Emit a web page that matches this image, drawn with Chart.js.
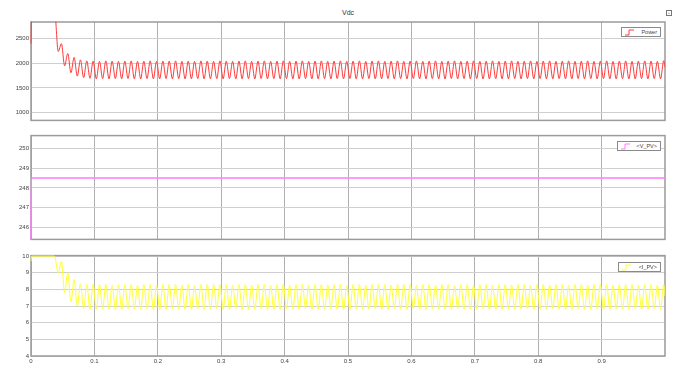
<!DOCTYPE html>
<html>
<head>
<meta charset="utf-8">
<script src="https://cdn.jsdelivr.net/npm/chart.js@4/dist/chart.umd.min.js"></script>
<style>
  body { margin: 0; background: #fff; width: 678px; height: 365px; position: relative; overflow: hidden; font-family: Arial, "Liberation Sans", sans-serif; }
  canvas { position: absolute; left: 0; }
  .title { position: absolute; top: 9px; left: 31px; width: 634px; text-align: center; font-size: 7px; color: #333; }
  .leg { position: absolute; border: 1px solid #8a8a8a; background: #fff; font-size: 5.5px; color: #444; height: 8px; line-height: 8px; box-sizing: content-box; }
  .leg svg { position: absolute; left: 2px; top: 1px; }
  .leg span { position: absolute; right: 3px; top: 0; }
  .icon { position: absolute; left: 666px; top: 10px; width: 4px; height: 4px; border: 1px solid #777; font-size: 4px; line-height: 4px; text-align: center; color: #555; }
</style>
</head>
<body>
<div class="title">Vdc</div>
<div class="icon">+</div>

<canvas id="c1" width="678" height="126" style="top:0px"></canvas>
<canvas id="c2" width="678" height="115" style="top:130px"></canvas>
<canvas id="c3" width="678" height="115" style="top:250px"></canvas>

<div class="leg" style="left:621px;top:27px;width:38px">
  <svg width="12" height="7"><path d="M1 6 H5 V1 H10" fill="none" stroke="#ff3b3b" stroke-width="1"/></svg><span>Power</span>
</div>
<div class="leg" style="left:617px;top:141px;width:42px">
  <svg width="12" height="7"><path d="M1 6 H5 V1 H10" fill="none" stroke="#ff7bff" stroke-width="1"/></svg><span>&lt;V_PV&gt;</span>
</div>
<div class="leg" style="left:618px;top:262px;width:41px">
  <svg width="12" height="7"><path d="M1 6 H5 V1 H10" fill="none" stroke="#ffff30" stroke-width="1"/></svg><span>&lt;I_PV&gt;</span>
</div>

<script>
// sample times (s), shared by Vdc and I_PV
const t = [
  0, 0.001, 0.037, 0.043,
  0.048, 0.053, 0.058, 0.063, 0.068, 0.073, 0.078, 0.083, 0.088, 0.093,
  0.098, 0.103, 0.108, 0.113, 0.118, 0.123, 0.128, 0.133, 0.138, 0.143,
  0.148, 0.153, 0.158, 0.163, 0.168, 0.173, 0.178, 0.183, 0.188, 0.193,
  0.198, 0.203, 0.208, 0.213, 0.218, 0.223, 0.228, 0.233, 0.238, 0.243,
  0.248, 0.253, 0.258, 0.263, 0.268, 0.273, 0.278, 0.283, 0.288, 0.293,
  0.298, 0.303, 0.308, 0.313, 0.318, 0.323, 0.328, 0.333, 0.338, 0.343,
  0.348, 0.353, 0.358, 0.363, 0.368, 0.373, 0.378, 0.383, 0.388, 0.393,
  0.398, 0.403, 0.408, 0.413, 0.418, 0.423, 0.428, 0.433, 0.438, 0.443,
  0.448, 0.453, 0.458, 0.463, 0.468, 0.473, 0.478, 0.483, 0.488, 0.493,
  0.498, 0.503, 0.508, 0.513, 0.518, 0.523, 0.528, 0.533, 0.538, 0.543,
  0.548, 0.553, 0.558, 0.563, 0.568, 0.573, 0.578, 0.583, 0.588, 0.593,
  0.598, 0.603, 0.608, 0.613, 0.618, 0.623, 0.628, 0.633, 0.638, 0.643,
  0.648, 0.653, 0.658, 0.663, 0.668, 0.673, 0.678, 0.683, 0.688, 0.693,
  0.698, 0.703, 0.708, 0.713, 0.718, 0.723, 0.728, 0.733, 0.738, 0.743,
  0.748, 0.753, 0.758, 0.763, 0.768, 0.773, 0.778, 0.783, 0.788, 0.793,
  0.798, 0.803, 0.808, 0.813, 0.818, 0.823, 0.828, 0.833, 0.838, 0.843,
  0.848, 0.853, 0.858, 0.863, 0.868, 0.873, 0.878, 0.883, 0.888, 0.893,
  0.898, 0.903, 0.908, 0.913, 0.918, 0.923, 0.928, 0.933, 0.938, 0.943,
  0.948, 0.953, 0.958, 0.963, 0.968, 0.973, 0.978, 0.983, 0.988, 0.993,
  0.998, 1.0
];

// Vdc "Power" (V)
const vdc = [
  2400, 3100, 3100, 2240,
  2400, 1950, 2200, 1810, 2120, 1740, 2070, 1710, 2050, 1695,
  2045, 1685, 2040, 1690, 2050, 1685, 2045, 1690, 2040, 1685,
  2045, 1690, 2050, 1685, 2040, 1685, 2045, 1690, 2050, 1685,
  2040, 1685, 2045, 1690, 2045, 1685, 2050, 1690, 2040, 1685,
  2045, 1685, 2040, 1690, 2050, 1685, 2045, 1685, 2040, 1690,
  2050, 1685, 2045, 1690, 2040, 1685, 2045, 1685, 2050, 1690,
  2040, 1685, 2045, 1690, 2050, 1685, 2040, 1690, 2045, 1685,
  2050, 1690, 2040, 1685, 2045, 1685, 2050, 1690, 2040, 1685,
  2045, 1685, 2050, 1690, 2040, 1685, 2045, 1690, 2050, 1685,
  2040, 1690, 2045, 1685, 2050, 1685, 2040, 1690, 2045, 1685,
  2050, 1685, 2040, 1690, 2045, 1685, 2050, 1690, 2040, 1685,
  2045, 1690, 2050, 1685, 2040, 1685, 2045, 1690, 2050, 1685,
  2040, 1685, 2045, 1690, 2050, 1685, 2040, 1690, 2045, 1685,
  2050, 1690, 2040, 1685, 2045, 1685, 2050, 1690, 2040, 1685,
  2045, 1685, 2050, 1690, 2040, 1685, 2045, 1690, 2050, 1685,
  2040, 1690, 2045, 1685, 2050, 1685, 2040, 1690, 2045, 1685,
  2050, 1685, 2040, 1690, 2045, 1685, 2050, 1690, 2040, 1685,
  2045, 1690, 2050, 1685, 2040, 1685, 2045, 1690, 2050, 1685,
  2040, 1685, 2045, 1690, 2050, 1685, 2045, 1690, 2040, 1685,
  2055, 1920
];

// I_PV (A)
const ipv = [
  9.7, 10, 10, 9.0,
  9.7, 7.8, 9.0, 7.25, 8.6, 7.0, 8.35, 6.85, 8.3, 6.8,
  8.3, 6.8, 8.3, 6.85, 8.3, 6.8, 8.25, 6.8, 8.3, 6.8,
  8.3, 6.85, 8.3, 6.8, 8.25, 6.8, 8.3, 6.85, 8.3, 6.8,
  8.25, 6.8, 8.3, 6.8, 8.3, 6.85, 8.3, 6.8, 8.25, 6.8,
  8.3, 6.8, 8.25, 6.85, 8.3, 6.8, 8.3, 6.8, 8.3, 6.85,
  8.3, 6.8, 8.3, 6.8, 8.25, 6.85, 8.3, 6.8, 8.3, 6.8,
  8.25, 6.8, 8.3, 6.85, 8.3, 6.8, 8.25, 6.8, 8.3, 6.8,
  8.3, 6.85, 8.25, 6.8, 8.3, 6.8, 8.3, 6.85, 8.25, 6.8,
  8.3, 6.8, 8.3, 6.8, 8.25, 6.85, 8.3, 6.8, 8.3, 6.8,
  8.25, 6.8, 8.3, 6.85, 8.3, 6.8, 8.25, 6.8, 8.3, 6.85,
  8.3, 6.8, 8.3, 6.8, 8.25, 6.85, 8.3, 6.8, 8.3, 6.8,
  8.3, 6.85, 8.25, 6.8, 8.3, 6.8, 8.3, 6.85, 8.25, 6.8,
  8.3, 6.8, 8.3, 6.8, 8.25, 6.85, 8.3, 6.8, 8.3, 6.8,
  8.25, 6.8, 8.3, 6.85, 8.3, 6.8, 8.25, 6.8, 8.3, 6.8,
  8.3, 6.85, 8.25, 6.8, 8.3, 6.8, 8.3, 6.85, 8.25, 6.8,
  8.3, 6.8, 8.3, 6.8, 8.25, 6.85, 8.3, 6.8, 8.3, 6.8,
  8.25, 6.8, 8.3, 6.85, 8.3, 6.8, 8.25, 6.8, 8.3, 6.85,
  8.3, 6.8, 8.3, 6.8, 8.25, 6.85, 8.3, 6.8, 8.3, 6.8,
  8.3, 6.85, 8.25, 6.8, 8.3, 6.8, 8.3, 6.85, 8.25, 6.8,
  8.3, 7.6
];

// V_PV (V) - steps up at t=0 and stays flat
const tpv = [0, 0.0005, 1.0];
const vpv = [245, 248.5, 248.5];

// tick labels
const xTicks = [0, 0.1, 0.2, 0.3, 0.4, 0.5, 0.6, 0.7, 0.8, 0.9];
const xTickLabels = ['0', '0.1', '0.2', '0.3', '0.4', '0.5', '0.6', '0.7', '0.8', '0.9'];
const vdcTicks = [1000, 1500, 2000, 2500];
const vpvTicks = [246, 247, 248, 249, 250];
const ipvTicks = [4, 5, 6, 7, 8, 9, 10];

// box round the plot area, drawn under the trace like the scope window
const boxPlugin = {
  id: 'box',
  beforeDatasetsDraw(chart) {
    const a = chart.chartArea, ctx = chart.ctx;
    ctx.save();
    ctx.strokeStyle = '#9a9a9a';
    ctx.lineWidth = 1.5;
    ctx.strokeRect(a.left, a.top, a.right - a.left, a.bottom - a.top);
    ctx.restore();
  }
};

function panel(id, labels, values, color, width, yMin, yMax, yTicks, showX, pad) {
  return new Chart(document.getElementById(id), {
    type: 'line',
    data: {
      labels: labels,
      datasets: [{
        data: values,
        borderColor: color,
        borderWidth: width,
        pointRadius: 0,
        cubicInterpolationMode: 'monotone',
        fill: false,
        clip: { left: 1.5, top: 0.5, right: 0.5, bottom: 0 }
      }]
    },
    options: {
      responsive: false,
      animation: false,
      devicePixelRatio: 1,
      layout: { padding: pad },
      plugins: { legend: { display: false }, tooltip: { enabled: false } },
      scales: {
        x: {
          type: 'linear',
          min: 0,
          max: 1,
          afterBuildTicks: s => { s.ticks = xTicks.map(v => ({ value: v })); },
          afterFit: s => { s.height = showX ? 9 : 0; },
          grid: { color: '#b0b0b0', drawTicks: false, lineWidth: 1 },
          border: { display: false },
          ticks: {
            display: showX,
            padding: 2,
            maxRotation: 0,
            autoSkip: false,
            color: '#444',
            font: { size: 6, family: 'Arial' },
            callback: (v, i) => xTickLabels[i]
          }
        },
        y: {
          min: yMin,
          max: yMax,
          afterBuildTicks: s => { s.ticks = yTicks.map(v => ({ value: v })); },
          afterFit: s => { s.width = 31; },
          grid: { color: '#cfcfcf', drawTicks: false, lineWidth: 1 },
          border: { display: false },
          ticks: {
            padding: 2,
            autoSkip: false,
            color: '#444',
            font: { size: 6, family: 'Arial' },
            callback: v => String(v)
          }
        }
      }
    },
    plugins: [boxPlugin]
  });
}

panel('c1', t, vdc, '#ff3b3b', 1, 840, 2840, vdcTicks, false, { top: 22, right: 13, bottom: 3, left: 0 });
panel('c2', tpv, vpv, '#ff7bff', 1.5, 245.4, 250.65, vpvTicks, false, { top: 5, right: 13, bottom: 3, left: 0 });
panel('c3', t, ipv, '#ffff30', 1, 4, 10.03, ipvTicks, true, { top: 5.5, right: 13, bottom: 0, left: 0 });
</script>
</body>
</html>
